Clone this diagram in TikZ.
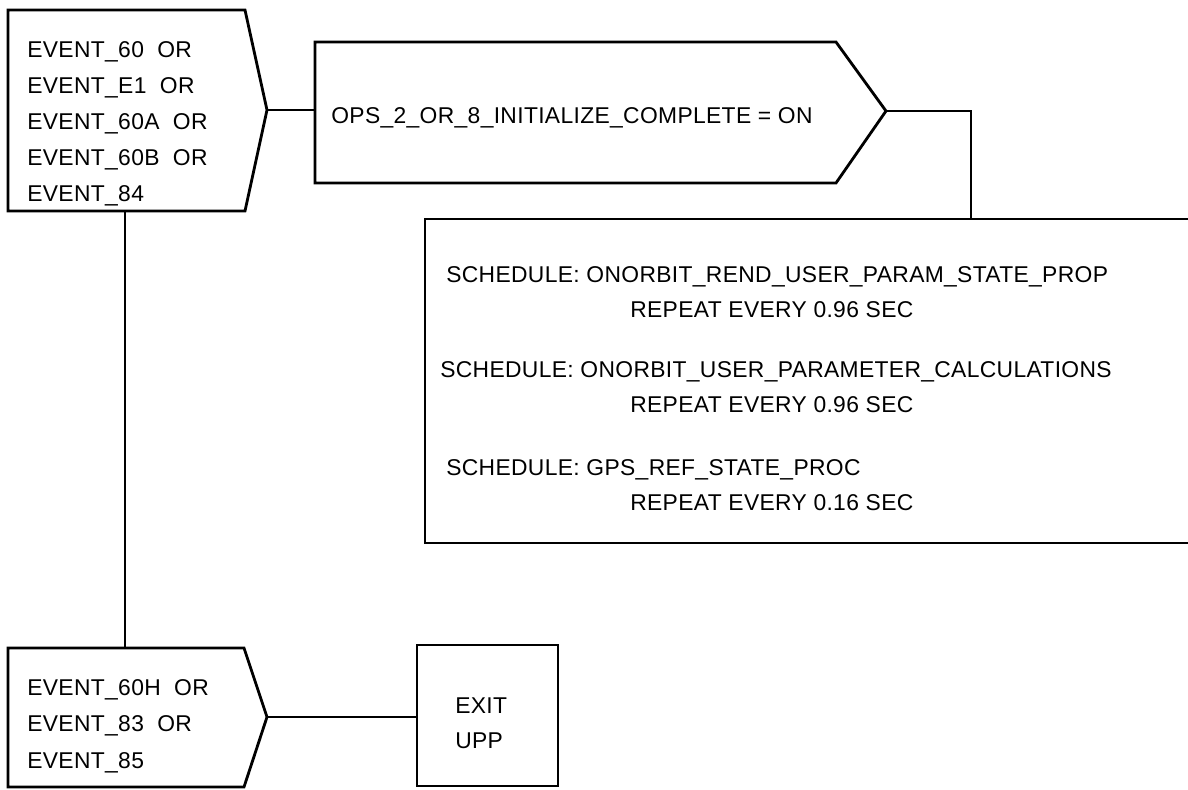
\documentclass[tikz,border=0pt]{standalone}
\usepackage{fontspec}
\newfontfamily\uppfont[LetterSpace=1.5]{Liberation Sans}
\usetikzlibrary{positioning}

\begin{document}
\begin{tikzpicture}[x=0.02cm,y=-0.02cm,
  outline/.style={line width=1.6pt,line join=miter},
  link/.style={line width=1.6pt},
  lbl/.style={anchor=base west,inner sep=0pt,
              font=\uppfont\fontsize{13}{16}\selectfont},
]
  \useasboundingbox (0,0) rectangle (1188,789);

  % Start events
  \draw[outline] (8,10) -- (245,10) -- (267,110) -- (245,211) -- (8,211) -- cycle;
  \coordinate (start tip) at (267,110);
  \coordinate (start foot) at (125,211);
  \node[lbl] (start1) at (27,57) {EVENT\_60\ \ OR};
  \node[lbl] (start2) at (27,93) {EVENT\_E1\ \ OR};
  \node[lbl] (start3) at (27,129) {EVENT\_60A\ \ OR};
  \node[lbl] (start4) at (27,165) {EVENT\_60B\ \ OR};
  \node[lbl] (start5) at (27,201) {EVENT\_84};

  % Condition
  \draw[outline] (315,42) -- (836,42) -- (886,111) -- (836,183) -- (315,183) -- cycle;
  \coordinate (cond in) at (315,110);
  \coordinate (cond tip) at (886,111);
  \node[lbl] (cond) at (331,123) {OPS\_2\_OR\_8\_INITIALIZE\_COMPLETE = ON};

  % Schedule block (open to the right)
  \draw[outline] (1188,219) -- (425,219) -- (425,543) -- (1188,543);
  \coordinate (sched top) at (971,219);
  \node[lbl] (sched1) at (446,282) {SCHEDULE: ONORBIT\_REND\_USER\_PARAM\_STATE\_PROP};
  \node[lbl] (rep1) at (630,317) {REPEAT EVERY 0.96 SEC};
  \node[lbl] (sched2) at (440,377) {SCHEDULE: ONORBIT\_USER\_PARAMETER\_CALCULATIONS};
  \node[lbl] (rep2) at (630,412) {REPEAT EVERY 0.96 SEC};
  \node[lbl] (sched3) at (446,475) {SCHEDULE: GPS\_REF\_STATE\_PROC};
  \node[lbl] (rep3) at (630,510) {REPEAT EVERY 0.16 SEC};

  % Stop events
  \draw[outline] (8,648) -- (244,648) -- (267,717) -- (244,787) -- (8,787) -- cycle;
  \coordinate (stop head) at (125,648);
  \coordinate (stop tip) at (267,717);
  \node[lbl] (stop1) at (27,695) {EVENT\_60H\ \ OR};
  \node[lbl] (stop2) at (27,731) {EVENT\_83\ \ OR};
  \node[lbl] (stop3) at (27,768) {EVENT\_85};

  % Exit
  \draw[outline] (417,645) rectangle (558,786);
  \coordinate (exit in) at (417,717);
  \node[lbl] (exit1) at (455,713) {EXIT};
  \node[lbl] (exit2) at (455,748) {UPP};

  \draw[link] (start tip) -- (cond in);
  \draw[link] (cond tip) -| (sched top);
  \draw[link] (start foot) -- (stop head);
  \draw[link] (stop tip) -- (exit in);
\end{tikzpicture}
\end{document}
